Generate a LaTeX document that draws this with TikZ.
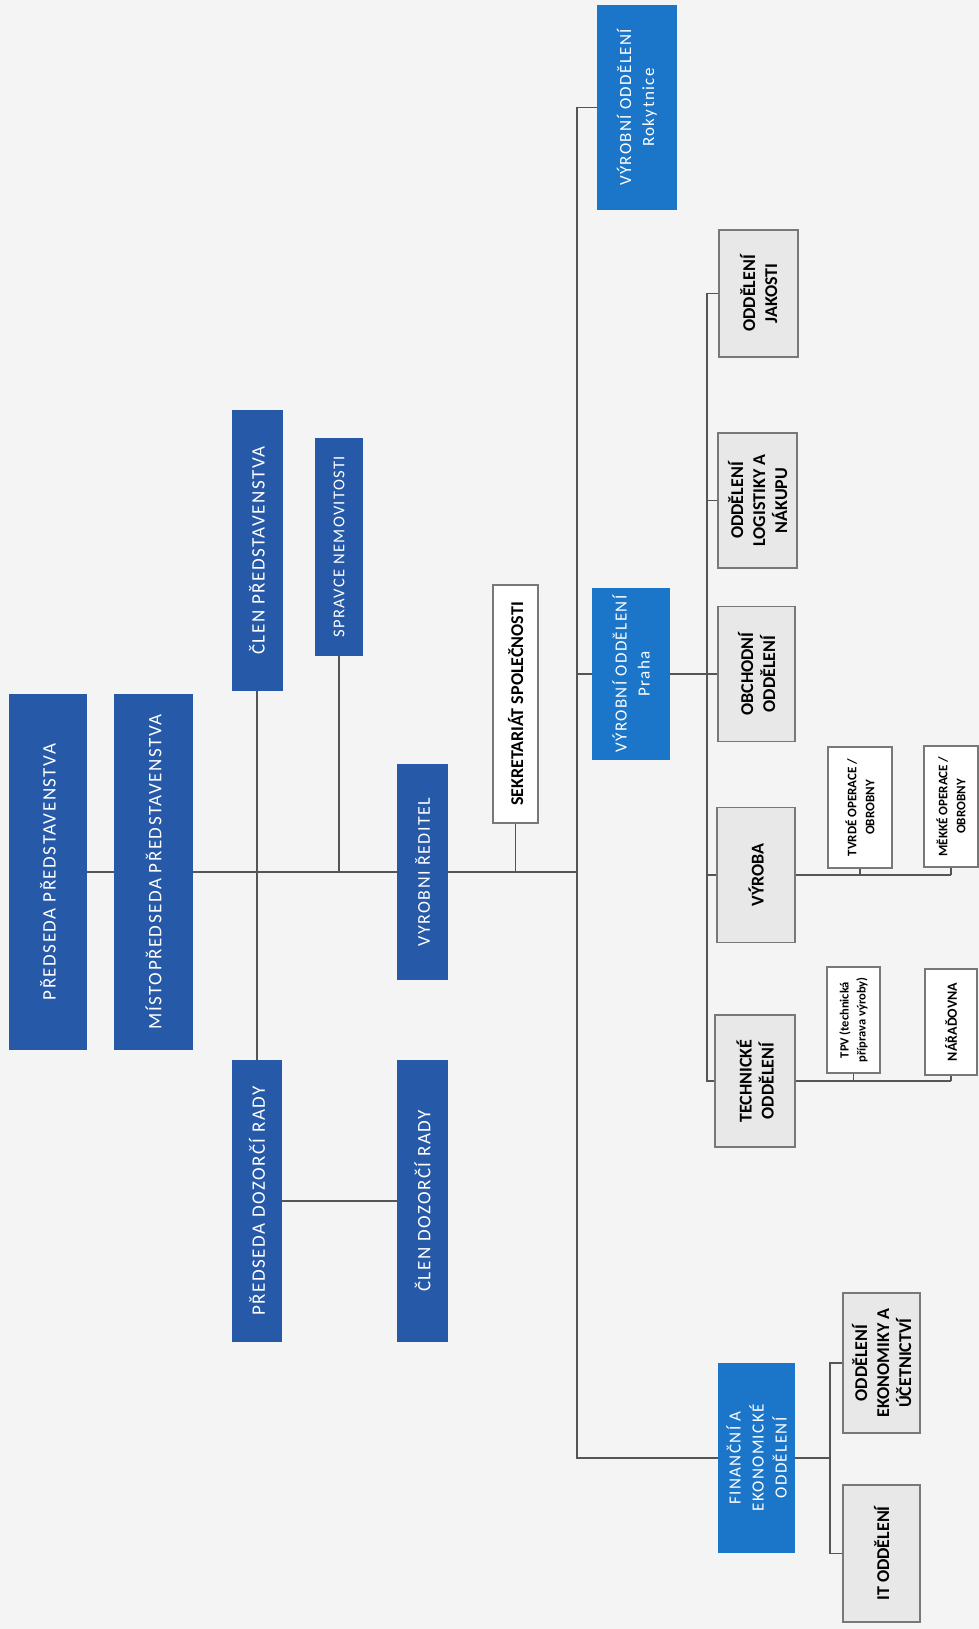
\documentclass[tikz,border=0pt]{standalone}
\usepackage{fontspec}
\setmainfont{Carlito}
\newfontfamily\bluefont[LetterSpace=8]{Carlito}
\newfontfamily\greyfont{Carlito}
\definecolor{bg}{RGB}{244,244,244}
\definecolor{darkblue}{RGB}{38,89,168}
\definecolor{lightblue}{RGB}{27,117,201}
\definecolor{greyfill}{RGB}{232,232,232}
\definecolor{boxline}{RGB}{120,120,120}
\definecolor{conncol}{RGB}{85,85,85}
\tikzset{
  base/.style={rotate=90, inner sep=0pt, align=center, anchor=center},
  bluebox/.style={base, fill=darkblue, text=white, font=\bluefont\fontsize{19}{23}\selectfont},
  lbluebox/.style={base, fill=lightblue, text=white, font=\bluefont\fontsize{17}{23}\selectfont},
  greybox/.style={base, fill=greyfill, draw=boxline, line width=1.2pt, font=\greyfont\bfseries\fontsize{18}{22}\selectfont},
  whitebox/.style={base, fill=white, draw=boxline, line width=1.2pt, font=\greyfont\bfseries\fontsize{13}{18}\selectfont},
  conn/.style={draw=conncol, line width=1.1pt}
}
\begin{document}
\begin{tikzpicture}[x=1pt,y=-1pt]
\useasboundingbox (0,0) rectangle (979,1629);
\fill[bg] (0,0) rectangle (979,1629);

% top management
\node[bluebox, minimum width=356pt, minimum height=78pt] (pp) at (48,872) {PŘEDSEDA PŘEDSTAVENSTVA};
\node[bluebox, minimum width=356pt, minimum height=79pt] (mp) at (153.5,872) {MÍSTOPŘEDSEDA PŘEDSTAVENSTVA};
\node[bluebox, minimum width=281pt, minimum height=51pt] (cp) at (257,550.5) {ČLEN PŘEDSTAVENSTVA};
\node[bluebox, minimum width=218pt, minimum height=48pt, font=\bluefont\fontsize{16.5}{20}\selectfont] (sn) at (339,547) {SPRAVCE NEMOVITOSTI};
\node[bluebox, minimum width=216pt, minimum height=51pt, font=\bluefont\fontsize{18}{22}\selectfont] (vr) at (422.5,872) {VYROBNI ŘEDITEL};
\node[bluebox, minimum width=282pt, minimum height=50pt] (pd) at (257,1201) {PŘEDSEDA DOZORČÍ RADY};
\node[bluebox, minimum width=282pt, minimum height=51pt] (cd) at (422.5,1201) {ČLEN DOZORČÍ RADY};

% secretariat
\node[whitebox, minimum width=238pt, minimum height=45pt, font=\greyfont\bfseries\fontsize{18}{22}\selectfont] (sk) at (515.5,704) {SEKRETARIÁT SPOLEČNOSTI};

% departments
\node[lbluebox, minimum width=205pt, minimum height=80pt] (rk) at (637,107.5) {VÝROBNÍ ODDĚLENÍ\\Rokytnice};
\node[lbluebox, minimum width=172pt, minimum height=78pt] (ph) at (631,674) {VÝROBNÍ ODDĚLENÍ\\Praha};
\node[lbluebox, minimum width=190pt, minimum height=77pt] (fe) at (756.5,1458) {FINANČNÍ A\\EKONOMICKÉ\\ODDĚLENÍ};

\node[greybox, minimum width=127pt, minimum height=79pt] (jk) at (758.5,293.5) {ODDĚLENÍ\\JAKOSTI};
\node[greybox, minimum width=135pt, minimum height=79pt] (lg) at (757.5,500.5) {ODDĚLENÍ\\LOGISTIKY A\\NÁKUPU};
\node[greybox, minimum width=135pt, minimum height=77pt] (ob) at (756.5,674) {OBCHODNÍ\\ODDĚLENÍ};
\node[greybox, minimum width=135pt, minimum height=78pt] (vy) at (756,875) {VÝROBA};
\node[greybox, minimum width=132pt, minimum height=80pt] (to) at (755,1081) {TECHNICKÉ\\ODDĚLENÍ};

\node[whitebox, minimum width=121pt, minimum height=64pt] (tv) at (860,807.5) {TVRDÉ OPERACE /\\OBROBNY};
\node[whitebox, minimum width=121pt, minimum height=54pt] (mk) at (951,806.5) {MĚKKÉ OPERACE /\\OBROBNY};
\node[whitebox, minimum width=106pt, minimum height=53pt, font=\greyfont\bfseries\fontsize{12.5}{17}\selectfont] (tp) at (853.5,1020) {TPV (technická\\příprava výroby)};
\node[whitebox, minimum width=106pt, minimum height=52pt, font=\greyfont\bfseries\fontsize{14}{17}\selectfont] (nr) at (951,1022) {NÁŘAĎOVNA};

\node[greybox, minimum width=140pt, minimum height=77pt] (ek) at (881.5,1363) {ODDĚLENÍ\\EKONOMIKY A\\ÚČETNICTVÍ};
\node[greybox, minimum width=137pt, minimum height=77pt] (it) at (881.5,1553.5) {IT ODDĚLENÍ};

% junctions
\coordinate (jmain) at (577,872);
\coordinate (jsub) at (707,674);
\coordinate (jf) at (830,1458);

% connectors
\draw[conn] (pp.south) -- (mp.north);
\draw[conn] (mp.south) -- (vr.north);
\draw[conn] (cp.west) -- (pd.east);
\draw[conn] (sn.west) -- (sn.west |- vr.north);
\draw[conn] (pd.south) -- (cd.north);
\draw[conn] (vr.south) -- (jmain);
\draw[conn] (sk.west) -- (sk.west |- vr.south);
\draw[conn] (rk.north) -- (rk.north -| jmain) -- (fe.north -| jmain) -- (fe.north);
\draw[conn] (ph.north) -- (ph.north -| jmain);
\draw[conn] (ph.south) -- (ob.north);
\draw[conn] (jk.north) -- (jk.north -| jsub) -- (to.north -| jsub) -- (to.north);
\draw[conn] (lg.north) -- (lg.north -| jsub);
\draw[conn] (vy.north) -- (vy.north -| jsub);
\draw[conn] (vy.south) -- (vy.south -| mk.west);
\draw[conn] (tv.west) -- (tv.west |- vy.south);
\draw[conn] (mk.west) -- (mk.west |- vy.south);
\draw[conn] (to.south) -- (to.south -| nr.west);
\draw[conn] (tp.west) -- (tp.west |- to.south);
\draw[conn] (nr.west) -- (nr.west |- to.south);
\draw[conn] (fe.south) -- (jf);
\draw[conn] (ek.north) -- (ek.north -| jf) -- (it.north -| jf) -- (it.north);
\end{tikzpicture}
\end{document}
